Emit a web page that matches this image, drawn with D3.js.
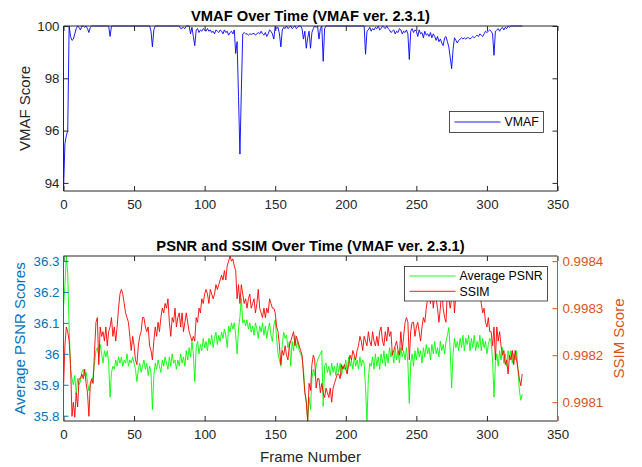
<!DOCTYPE html>
<html>
<head>
<meta charset="utf-8">
<script src="https://cdn.jsdelivr.net/npm/d3@7"></script>
<style>
  body { margin: 0; background: #fff; }
  svg { display: block; font-family: "Liberation Sans", Arial, Helvetica, sans-serif; }
</style>
</head>
<body>
<svg id="chart" width="642" height="467"></svg>
<script>
// Per-frame quality scores (frame index = array position)
const vmaf = [
  93.69, 95.5, 95.8, 96.0, 100, 99.6, 99.45, 99.5, 99.7, 99.9,
  100, 99.95, 99.85, 100, 100, 99.95, 100, 99.9, 99.75, 99.95,
  100, 100, 100, 100, 100, 100, 100, 100, 100, 100,
  100, 100, 100, 99.6, 100, 100, 100, 100, 100, 100,
  100, 100, 100, 100, 100, 100, 100, 100, 100, 100,
  100, 100, 100, 100, 100, 100, 100, 100, 100, 100,
  100, 100, 99.8, 99.2, 99.85, 100, 100, 100, 100, 100,
  100, 100, 100, 100, 100, 100, 100, 100, 100, 100,
  100, 100, 100, 99.9, 99.92, 99.95, 99.9, 100, 100, 100,
  99.7, 99.95, 99.6, 99.25, 99.85, 99.9, 99.75, 99.85, 99.8, 99.9,
  99.85, 99.8, 99.9, 99.8, 99.85, 99.75, 99.8, 99.7, 99.85, 99.8,
  99.75, 99.85, 99.8, 99.7, 99.85, 99.75, 99.8, 99.65, 99.75, 99.8,
  99.7, 99.85, 98.95, 99.4, 97.3, 95.1, 97.5, 99.7, 99.75, 99.7,
  99.7, 99.65, 99.7, 99.68, 99.7, 99.72, 99.65, 99.7, 99.75, 99.7,
  99.8, 99.7, 99.65, 99.75, 99.6, 99.7, 99.85, 99.8, 99.7, 99.5,
  100, 99.9, 99.95, 99.7, 99.2, 99.85, 99.95, 99.9, 100, 99.9,
  99.95, 100, 99.9, 99.95, 100, 99.9, 99.95, 100, 100, 99.9,
  99.5, 99.8, 99.15, 99.55, 99.8, 99.15, 99.75, 99.9, 100, 99.95,
  100, 99.5, 99.9, 100, 98.65, 99.9, 100, 100, 100, 100,
  100, 100, 100, 100, 100, 100, 100, 100, 100, 100,
  100, 100, 100, 100, 100, 100, 100, 100, 100, 100,
  100, 100, 100, 100, 98.92, 99.8, 99.85, 99.95, 99.8, 99.9,
  99.85, 99.95, 99.9, 100, 99.85, 99.9, 100, 99.95, 99.9, 100,
  99.9, 99.85, 99.75, 99.8, 99.85, 99.7, 99.8, 99.75, 99.9, 99.85,
  99.7, 99.8, 99.75, 99.85, 99.7, 98.72, 99.8, 99.9, 99.75, 99.85,
  99.8, 99.6, 99.85, 99.7, 99.75, 99.55, 99.8, 99.65, 99.7, 99.6,
  99.75, 99.55, 99.7, 99.6, 99.45, 99.6, 99.4, 99.5, 99.35, 99.25,
  99.55, 99.6, 99.4, 99.2, 98.8, 98.37, 99.1, 99.55, 99.45, 99.35,
  99.45, 99.5, 99.55, 99.5, 99.55, 99.5, 99.55, 99.55, 99.5, 99.55,
  99.6, 99.55, 99.6, 99.65, 99.6, 99.7, 99.65, 99.6, 99.7, 99.8,
  99.75, 99.8, 99.85, 99.8, 99.7, 98.88, 99.8, 99.85, 99.9, 99.8,
  99.9, 99.95, 99.85, 99.95, 99.9, 100, 99.95, 100, 100, 100,
  100, 100, 100, 100, 100, 100
];

const psnr = [
  36.15, 36.22, 36.316, 36.26, 36.08, 35.95, 35.92, 35.90, 35.93, 35.87,
  35.92, 35.90, 35.91, 35.94, 35.95, 35.93, 35.94, 35.91, 35.88, 35.90,
  35.91, 35.93, 35.97, 36.01, 36.02, 35.99, 36.03, 36.00, 35.97, 36.01,
  35.99, 36.01, 35.97, 35.86, 35.94, 35.96, 35.95, 35.98, 35.96, 35.99,
  35.97, 35.99, 35.96, 35.98, 35.97, 36.00, 35.96, 35.98, 35.97, 35.99,
  35.97, 35.95, 35.91, 35.95, 35.97, 35.94, 35.96, 35.98, 35.95, 35.97,
  35.93, 35.96, 35.94, 35.82, 35.93, 35.97, 35.95, 35.98, 35.96, 35.94,
  35.98, 35.96, 35.99, 35.97, 35.95, 35.99, 35.96, 36.00, 35.97, 35.98,
  35.95, 35.98, 35.96, 36.00, 35.97, 35.99, 35.96, 36.01, 35.98, 36.02,
  35.99, 36.04, 36.00, 35.91, 36.02, 36.04, 36.00, 36.03, 36.01, 36.05,
  36.02, 36.04, 36.01, 36.05, 36.03, 36.06, 36.02, 36.05, 36.07, 36.03,
  36.06, 36.04, 36.07, 36.05, 36.08, 36.06, 36.02, 36.09, 36.07, 36.10,
  36.08, 36.10, 36.06, 36.00, 36.08, 36.12, 36.18, 36.10, 36.11, 36.09,
  36.11, 36.08, 36.10, 36.07, 36.09, 36.06, 36.10, 36.08, 36.05, 36.09,
  36.07, 36.10, 36.06, 36.09, 36.05, 36.08, 36.10, 36.06, 36.04, 36.09,
  36.11, 36.05, 36.00, 35.98, 35.96, 36.03, 36.07, 36.05, 36.06, 36.02,
  36.04, 35.96, 36.04, 36.01, 36.06, 36.02, 36.04, 36.01, 36.00, 35.99,
  35.95, 35.88, 35.85, 35.783, 35.86, 35.82, 35.92, 35.95, 35.93, 35.96,
  35.98, 35.99, 36.00, 36.01, 35.83, 35.96, 35.97, 35.94, 35.96, 35.93,
  35.97, 35.94, 35.96, 35.93, 35.97, 35.94, 35.97, 35.93, 35.96, 35.95,
  35.98, 35.94, 35.99, 35.96, 35.98, 35.95, 35.99, 35.96, 35.98, 35.95,
  35.99, 35.96, 35.98, 35.97, 35.89, 35.783, 35.92, 35.97, 35.96, 35.99,
  35.95, 36.00, 35.96, 35.99, 35.95, 36.00, 35.97, 36.01, 35.96, 36.00,
  35.97, 36.02, 35.99, 36.01, 35.97, 36.02, 35.98, 36.01, 35.97, 36.02,
  35.99, 36.01, 35.98, 36.02, 35.97, 35.84, 35.97, 36.00, 35.96, 36.01,
  35.98, 36.02, 35.99, 36.01, 35.97, 36.02, 35.99, 36.03, 36.00, 36.02,
  35.98, 36.03, 36.00, 36.04, 36.00, 36.02, 35.99, 36.04, 36.01, 36.03,
  36.00, 36.04, 36.06, 36.085, 36.01, 35.89, 36.00, 36.05, 36.02, 36.04,
  36.01, 36.05, 36.02, 36.06, 36.01, 36.05, 36.03, 36.06, 36.01, 36.05,
  36.02, 36.06, 36.01, 36.04, 36.02, 36.06, 36.01, 36.05, 36.02, 36.04,
  36.00, 36.03, 36.05, 36.04, 35.98, 35.86, 35.97, 36.00, 35.96, 36.01,
  35.98, 36.02, 35.97, 36.00, 35.96, 36.01, 35.98, 36.01, 35.97, 36.00,
  35.98, 36.01, 35.95, 35.88, 35.85, 35.87
];

const ssim = [
  0.99813, 0.99822, 0.99826, 0.99825, 0.99823, 0.99818, 0.99807, 0.9981, 0.998068, 0.99812,
  0.99809, 0.99815, 0.99815, 0.99816, 0.99815, 0.99817, 0.99814, 0.99812, 0.99807, 0.99814,
  0.99815, 0.99814, 0.99821, 0.99827, 0.99828, 0.99818, 0.99826, 0.99824, 0.99825, 0.99823,
  0.99826, 0.99822, 0.99825, 0.99826, 0.99828, 0.99824, 0.99826, 0.99823, 0.99826, 0.9983,
  0.99833, 0.99834, 0.99833, 0.99831, 0.99829, 0.99828, 0.99827, 0.99824, 0.99821, 0.99824,
  0.99822, 0.99819, 0.99818, 0.99822, 0.99824, 0.99825, 0.99828, 0.99828, 0.99826, 0.99825,
  0.99826, 0.99822, 0.99821, 0.99819, 0.99823, 0.99826, 0.99824, 0.99827, 0.99825, 0.99828,
  0.9983, 0.99829, 0.99831, 0.9983, 0.99832, 0.99827, 0.99824, 0.99828, 0.99827, 0.9983,
  0.99826, 0.99828, 0.99829, 0.99826, 0.99829, 0.99825, 0.99827, 0.99829, 0.99827, 0.99825,
  0.99824, 0.99823, 0.99824, 0.99823, 0.99828, 0.99827, 0.9983, 0.99829, 0.99832, 0.99831,
  0.99833, 0.99834, 0.99833, 0.99831, 0.99834, 0.99833, 0.99832, 0.99833, 0.99835, 0.99834,
  0.99835, 0.99836, 0.99837, 0.99836, 0.99838, 0.99836, 0.99839, 0.9984, 0.998411, 0.9984,
  0.998405, 0.99839, 0.99838, 0.99832, 0.99835, 0.99831, 0.99835, 0.99833, 0.99831, 0.99832,
  0.9983, 0.99832, 0.99833, 0.9983, 0.99831, 0.99832, 0.99829, 0.99831, 0.99834, 0.9983,
  0.99829, 0.99828, 0.9983, 0.99828, 0.9983, 0.99829, 0.99832, 0.99831, 0.9983, 0.9983,
  0.99829, 0.99826, 0.99825, 0.99822, 0.99818, 0.99821, 0.9982, 0.99822, 0.9982, 0.99819,
  0.99822, 0.99823, 0.99824, 0.99825, 0.99822, 0.99824, 0.99823, 0.99822, 0.99821, 0.9982,
  0.99816, 0.99812, 0.9981, 0.99806, 0.99814, 0.998125, 0.99818, 0.9982, 0.99819, 0.99813,
  0.99815, 0.99815, 0.99812, 0.99814, 0.99812, 0.99811, 0.99813, 0.99812, 0.99811, 0.99813,
  0.9981, 0.99813, 0.99814, 0.99815, 0.99816, 0.99816, 0.99815, 0.99818, 0.99817, 0.99818,
  0.99817, 0.99816, 0.99818, 0.9982, 0.99819, 0.99821, 0.9982, 0.99819, 0.99821, 0.99822,
  0.99824, 0.99823, 0.99821, 0.99824, 0.99823, 0.99822, 0.99825, 0.99823, 0.99822, 0.99825,
  0.99823, 0.99822, 0.99824, 0.99822, 0.99825, 0.99826, 0.99823, 0.99822, 0.99825, 0.99823,
  0.99826, 0.99824, 0.99825, 0.9982, 0.99821, 0.99822, 0.99823, 0.99821, 0.9982, 0.99825,
  0.99821, 0.99824, 0.99827, 0.99828, 0.99827, 0.99819, 0.99825, 0.99827, 0.99827, 0.99824,
  0.99826, 0.99827, 0.99825, 0.99823, 0.99826, 0.99828, 0.99827, 0.9983, 0.99832, 0.99835,
  0.99831, 0.99834, 0.9983, 0.99833, 0.99832, 0.9983, 0.99827, 0.9983, 0.99834, 0.9983,
  0.99828, 0.99827, 0.99834, 0.99832, 0.9983, 0.99832, 0.99835, 0.99829, 0.99833, 0.99836,
  0.99834, 0.99837, 0.99833, 0.99836, 0.99834, 0.99837, 0.99833, 0.99835, 0.99836, 0.99833,
  0.99835, 0.99834, 0.99836, 0.99833, 0.99835, 0.99833, 0.99831, 0.99829, 0.9983, 0.99827,
  0.99826, 0.99828, 0.99825, 0.99825, 0.99822, 0.99826, 0.99819, 0.99826, 0.99823, 0.99825,
  0.99822, 0.9982, 0.99821, 0.99818, 0.99819, 0.99816, 0.9982, 0.99819, 0.99821, 0.99818,
  0.99821, 0.99819, 0.99817, 0.99815, 0.998135, 0.99816
];

const xTicks = [0, 50, 100, 150, 200, 250, 300, 350];
const vmafTicks = [94, 96, 98, 100];
const psnrTicks = [35.8, 35.9, 36, 36.1, 36.2, 36.3];
const ssimTicks = [0.9981, 0.9982, 0.9983, 0.9984];

const titleTop = "VMAF Over Time (VMAF ver. 2.3.1)";
const titleBottom = "PSNR and SSIM Over Time (VMAF ver. 2.3.1)";

// ---- layout & styles ----
const L = 63.5, R = 557.5;
const top1 = 26, bot1 = 191;
const top2 = 256, bot2 = 421;
const AX = "#262626";
const BLUE = "#0072BD";
const ORANGE = "#D95319";
const TICK = 5;
const FS_TICK = "13.3px", FS_LABEL = "15px", FS_TITLE = "14.7px", FS_LEG = "12.3px";

const svg = d3.select("#chart");

const x1 = d3.scaleLinear().domain([0, 350]).range([L, R]);
const yV = d3.scaleLinear().domain(d3.extent(vmaf)).range([bot1, top1]);
const yP = d3.scaleLinear().domain(d3.extent(psnr)).range([bot2, top2]);
const yS = d3.scaleLinear().domain(d3.extent(ssim)).range([bot2, top2]);

function styleAxis(g, color, hideLabels) {
  g.select(".domain").remove();
  g.selectAll(".tick line").attr("stroke", color).attr("stroke-width", 1);
  g.selectAll(".tick text").attr("fill", color).style("font-size", FS_TICK);
  if (hideLabels) g.selectAll(".tick text").remove();
}

function edges(g, t, b, leftColor, rightColor) {
  const e = [
    [L, t, R, t, AX], [L, b, R, b, AX],
    [L, t, L, b, leftColor], [R, t, R, b, rightColor]
  ];
  g.selectAll("line.edge").data(e).join("line").attr("class", "edge")
    .attr("x1", d => d[0]).attr("y1", d => d[1]).attr("x2", d => d[2]).attr("y2", d => d[3])
    .attr("stroke", d => d[4]).attr("stroke-width", 1);
}

// ---- top panel: VMAF ----
const gTop = svg.append("g");
svg.append("clipPath").attr("id", "clip1").append("rect")
  .attr("x", L).attr("y", top1 - 1).attr("width", R - L).attr("height", bot1 - top1 + 2);

gTop.append("path").datum(vmaf)
  .attr("clip-path", "url(#clip1)")
  .attr("fill", "none").attr("stroke", "#0000ff").attr("stroke-width", 0.9)
  .attr("d", d3.line().x((d, i) => x1(i)).y(d => yV(d)));

gTop.append("g").attr("transform", `translate(0,${bot1})`)
  .call(d3.axisBottom(x1).tickValues(xTicks).tickSize(-TICK).tickPadding(9).tickFormat(d3.format("d")))
  .call(g => styleAxis(g, AX));
gTop.append("g").attr("transform", `translate(0,${top1})`)
  .call(d3.axisTop(x1).tickValues(xTicks).tickSize(-TICK))
  .call(g => styleAxis(g, AX, true));
gTop.append("g").attr("transform", `translate(${L},0)`)
  .call(d3.axisLeft(yV).tickValues(vmafTicks).tickSize(-TICK).tickPadding(4).tickFormat(d3.format("d")))
  .call(g => styleAxis(g, AX));
gTop.append("g").attr("transform", `translate(${R},0)`)
  .call(d3.axisRight(yV).tickValues(vmafTicks).tickSize(-TICK))
  .call(g => styleAxis(g, AX, true));
edges(gTop, top1, bot1, AX, AX);

svg.append("text").attr("x", (L + R) / 2).attr("y", 20.5).attr("text-anchor", "middle")
  .attr("font-weight", "bold").style("font-size", FS_TITLE).attr("fill", "#000").text(titleTop);
svg.append("text").attr("transform", `translate(29.5,${(top1 + bot1) / 2}) rotate(-90)`)
  .attr("text-anchor", "middle").style("font-size", FS_LABEL).attr("fill", AX).text("VMAF Score");

// legend (top)
const lg1 = svg.append("g").attr("transform", "translate(449.5,111.5)");
lg1.append("rect").attr("width", 94).attr("height", 21).attr("fill", "#fff").attr("stroke", AX).attr("stroke-width", 0.8);
lg1.append("line").attr("x1", 5).attr("x2", 51).attr("y1", 10.5).attr("y2", 10.5).attr("stroke", "#0000ff").attr("stroke-width", 0.9);
lg1.append("text").attr("x", 55).attr("y", 14.8).style("font-size", FS_LEG).attr("fill", "#000").text("VMAF");

// ---- bottom panel: PSNR & SSIM ----
const gBot = svg.append("g");
svg.append("clipPath").attr("id", "clip2").append("rect")
  .attr("x", L).attr("y", top2 - 1).attr("width", R - L).attr("height", bot2 - top2 + 2);

gBot.append("path").datum(psnr)
  .attr("clip-path", "url(#clip2)")
  .attr("fill", "none").attr("stroke", "#00ff00").attr("stroke-width", 0.9)
  .attr("d", d3.line().x((d, i) => x1(i)).y(d => yP(d)));
gBot.append("path").datum(ssim)
  .attr("clip-path", "url(#clip2)")
  .attr("fill", "none").attr("stroke", "#ff0000").attr("stroke-width", 0.9)
  .attr("d", d3.line().x((d, i) => x1(i)).y(d => yS(d)));

gBot.append("g").attr("transform", `translate(0,${bot2})`)
  .call(d3.axisBottom(x1).tickValues(xTicks).tickSize(-TICK).tickPadding(9).tickFormat(d3.format("d")))
  .call(g => styleAxis(g, AX));
gBot.append("g").attr("transform", `translate(0,${top2})`)
  .call(d3.axisTop(x1).tickValues(xTicks).tickSize(-TICK))
  .call(g => styleAxis(g, AX, true));
gBot.append("g").attr("transform", `translate(${L},0)`)
  .call(d3.axisLeft(yP).tickValues(psnrTicks).tickSize(-TICK).tickPadding(4).tickFormat(d3.format("~g")))
  .call(g => styleAxis(g, BLUE));
gBot.append("g").attr("transform", `translate(${R},0)`)
  .call(d3.axisRight(yS).tickValues(ssimTicks).tickSize(-TICK).tickPadding(5).tickFormat(d3.format(".4f")))
  .call(g => styleAxis(g, ORANGE));
edges(gBot, top2, bot2, BLUE, ORANGE);

svg.append("text").attr("x", (L + R) / 2).attr("y", 250.5).attr("text-anchor", "middle")
  .attr("font-weight", "bold").style("font-size", FS_TITLE).attr("fill", "#000").text(titleBottom);
svg.append("text").attr("x", (L + R) / 2).attr("y", 461.5).attr("text-anchor", "middle")
  .style("font-size", FS_LABEL).attr("fill", AX).text("Frame Number");
svg.append("text").attr("transform", `translate(24.5,${(top2 + bot2) / 2}) rotate(-90)`)
  .attr("text-anchor", "middle").style("font-size", FS_LABEL).attr("fill", BLUE).text("Average PSNR Scores");
svg.append("text").attr("transform", `translate(624,${(top2 + bot2) / 2}) rotate(-90)`)
  .attr("text-anchor", "middle").style("font-size", FS_LABEL).attr("fill", ORANGE).text("SSIM Score");

// legend (bottom)
const lg2 = svg.append("g").attr("transform", "translate(404.5,266.5)");
lg2.append("rect").attr("width", 143).attr("height", 34.5).attr("fill", "#fff").attr("stroke", AX).attr("stroke-width", 0.8);
const legItems = [["Average PSNR", "#00ff00"], ["SSIM", "#ff0000"]];
legItems.forEach((it, k) => {
  const yy = 9.5 + k * 15.3;
  lg2.append("line").attr("x1", 5).attr("x2", 51).attr("y1", yy).attr("y2", yy).attr("stroke", it[1]).attr("stroke-width", 0.9);
  lg2.append("text").attr("x", 55).attr("y", yy + 4.3).style("font-size", FS_LEG).attr("fill", "#000").text(it[0]);
});
</script>
</body>
</html>
